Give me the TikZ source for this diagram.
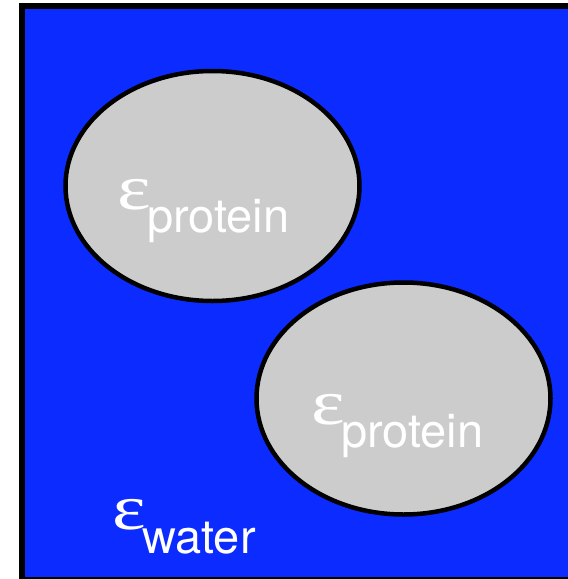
\documentclass[tikz,border=0pt]{standalone}
\usepackage{fontspec}
\setmainfont{TeX Gyre Heros}
\newfontfamily\epsfont{Liberation Serif}
\definecolor{water}{RGB}{12,44,255}
\definecolor{prot}{RGB}{204,204,204}
\tikzset{
  blob/.style={draw=black, line width=4.5pt, fill=prot},
  eps/.style={inner sep=0pt, anchor=base west, text=white, font=\epsfont\fontsize{64}{68}\selectfont},
  sub/.style={inner sep=0pt, anchor=base west, text=white, font=\fontsize{47}{50}\selectfont},
}
\begin{document}
\begin{tikzpicture}[x=1pt, y=-1pt]
\useasboundingbox (0,0) rectangle (568,579);
\draw[line width=6pt, fill=water] (22,6) rectangle (573,580);
\draw[blob] (212.5,186) ellipse [x radius=147, y radius=115];
\draw[blob] (403.5,398.5) ellipse [x radius=147, y radius=116];
\node[eps, xscale=1.25, line width=1pt, draw=none] (e1) at (117,209) {ε};
\node[sub] (s1) at (147,232) {protein};
\node[eps, xscale=1.25] (e2) at (311,424) {ε};
\node[sub] (s2) at (341,447) {protein};
\node[eps, xscale=1.25] (e3) at (112,529) {ε};
\node[sub] (s3) at (142,553) {water};
\end{tikzpicture}
\end{document}
